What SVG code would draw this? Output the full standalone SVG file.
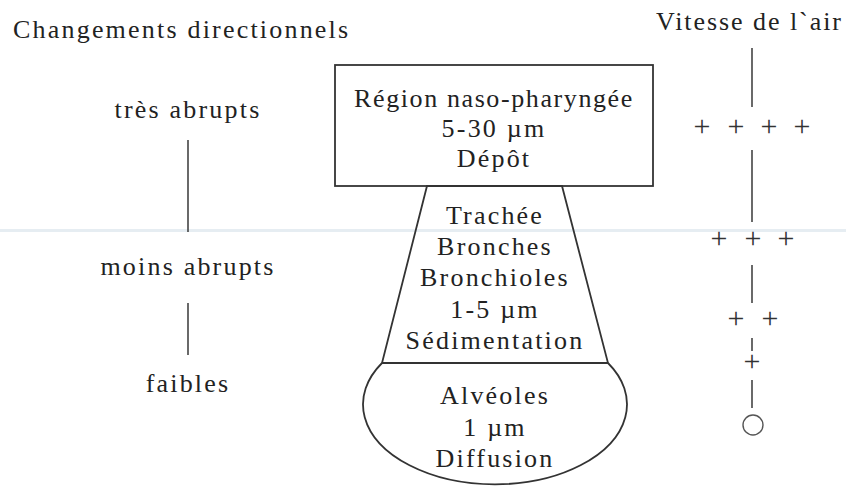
<svg xmlns="http://www.w3.org/2000/svg" width="846" height="487" viewBox="0 0 846 487">
<style>
text{font-family:"Liberation Serif","Times New Roman",serif;font-size:26px;letter-spacing:2.2px;fill:#222}
.c{text-anchor:middle}
.shape{fill:none;stroke:#333;stroke-width:1.8}
.ln{stroke:#444;stroke-width:1.6}
.p{font-size:30px;letter-spacing:0;text-anchor:middle;fill:#333}
</style>
<rect width="846" height="487" fill="#fff"/>
<rect x="0" y="229" width="846" height="3" fill="#e6edf2"/>
<g id="titles">
<text x="13" y="38">Changements directionnels</text>
<text x="656" y="30" textLength="185" lengthAdjust="spacing" style="letter-spacing:0">Vitesse de l`air</text>
</g>
<g id="left-scale">
<text class="c" x="188" y="118">très abrupts</text>
<text class="c" x="188" y="275">moins abrupts</text>
<text class="c" x="188" y="392">faibles</text>
</g>
<g id="nasopharynx">
<rect class="shape" x="335" y="65" width="318" height="121"/>
<text class="c" x="494" y="107" style="letter-spacing:1.6px">Région naso-pharyngée</text>
<text class="c" x="494" y="137">5-30 µm</text>
<text class="c" x="494" y="167">Dépôt</text>
</g>
<g id="trachee">
<path class="shape" d="M427,186 L562,186 L608,363 L382,363 Z"/>
<text class="c" x="495" y="224">Trachée</text>
<text class="c" x="495" y="255">Bronches</text>
<text class="c" x="495" y="286">Bronchioles</text>
<text class="c" x="495" y="318">1-5 µm</text>
<text class="c" x="495" y="349">Sédimentation</text>
</g>
<g id="alveoles">
<path class="shape" d="M382,363 A132,80 0 1 0 608,363"/>
<text class="c" x="495" y="404">Alvéoles</text>
<text class="c" x="495" y="436">1 µm</text>
<text class="c" x="495" y="467">Diffusion</text>
</g>
<g id="air-speed">
<text class="p" x="702" y="136">+</text>
<text class="p" x="736" y="136">+</text>
<text class="p" x="769" y="136">+</text>
<text class="p" x="802" y="136">+</text>
<text class="p" x="719" y="248">+</text>
<text class="p" x="753" y="248">+</text>
<text class="p" x="786" y="248">+</text>
<text class="p" x="736" y="328">+</text>
<text class="p" x="770" y="328">+</text>
<text class="p" x="752" y="371">+</text>
<circle cx="753" cy="425" r="10" fill="none" stroke="#555" stroke-width="1.4"/>
</g>
<g id="connectors">
<line class="ln" x1="188" y1="140" x2="188" y2="232"/>
<line class="ln" x1="188" y1="303" x2="188" y2="355"/>
<line class="ln" x1="752" y1="48" x2="752" y2="107"/>
<line class="ln" x1="752" y1="150" x2="752" y2="222"/>
<line class="ln" x1="752" y1="265" x2="752" y2="303"/>
<line class="ln" x1="752" y1="338" x2="752" y2="351"/>
<line class="ln" x1="752" y1="380" x2="752" y2="408"/>
</g>
</svg>
